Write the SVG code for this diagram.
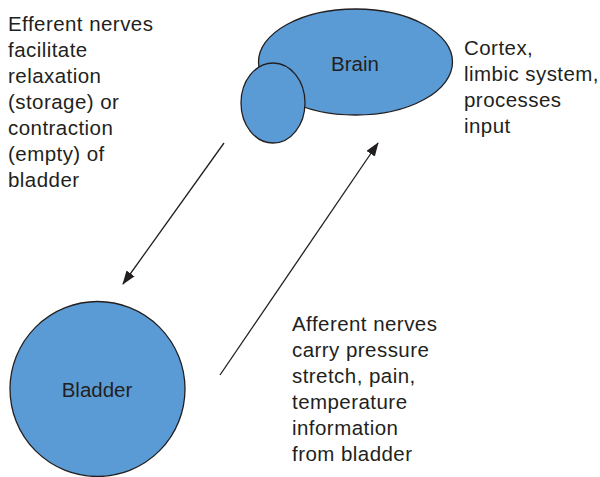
<svg xmlns="http://www.w3.org/2000/svg" width="600" height="477" viewBox="0 0 600 477">
  <style>
    .shape { fill: #5b9bd5; stroke: #231f20; stroke-width: 1.3; }
    .label { font-family: "Liberation Sans", Arial, sans-serif; font-size: 20.5px; fill: #231f20; }
    .note { letter-spacing: 0.45px; }
    .mid { text-anchor: middle; }
    .wire { stroke: #231f20; stroke-width: 1.3; fill: none; marker-end: url(#head); }
  </style>
  <defs>
    <marker id="head" markerUnits="userSpaceOnUse" markerWidth="14" markerHeight="10" refX="13" refY="5" orient="auto">
      <path d="M0,0 L14,5 L0,10 Z" fill="#231f20"/>
    </marker>
  </defs>

  <rect width="600" height="477" fill="#ffffff"/>

  <g id="connectors">
    <line class="wire" x1="224" y1="143" x2="123" y2="284"/>
    <line class="wire" x1="220" y1="375" x2="378" y2="143"/>
  </g>

  <g id="brain">
    <ellipse class="shape" cx="355.5" cy="62" rx="97" ry="53"/>
    <ellipse class="shape" cx="273" cy="103" rx="32" ry="40"/>
    <text class="label mid" x="355" y="71">Brain</text>
  </g>

  <g id="bladder">
    <circle class="shape" cx="97.5" cy="389" r="87.5"/>
    <text class="label mid" x="97" y="397">Bladder</text>
  </g>

  <g id="efferent-note">
    <text class="label note" x="8" y="31">
      <tspan x="8" y="31">Efferent nerves</tspan>
      <tspan x="8" y="57">facilitate</tspan>
      <tspan x="8" y="83">relaxation</tspan>
      <tspan x="8" y="109">(storage) or</tspan>
      <tspan x="8" y="135">contraction</tspan>
      <tspan x="8" y="161">(empty) of</tspan>
      <tspan x="8" y="187">bladder</tspan>
    </text>
  </g>

  <g id="cortex-note">
    <text class="label note" x="464" y="55">
      <tspan x="464" y="55">Cortex,</tspan>
      <tspan x="464" y="81">limbic system,</tspan>
      <tspan x="464" y="107">processes</tspan>
      <tspan x="464" y="133">input</tspan>
    </text>
  </g>

  <g id="afferent-note">
    <text class="label note" x="292" y="331">
      <tspan x="292" y="331">Afferent nerves</tspan>
      <tspan x="292" y="357">carry pressure</tspan>
      <tspan x="292" y="383">stretch, pain,</tspan>
      <tspan x="292" y="409">temperature</tspan>
      <tspan x="292" y="435">information</tspan>
      <tspan x="292" y="461">from bladder</tspan>
    </text>
  </g>
</svg>
